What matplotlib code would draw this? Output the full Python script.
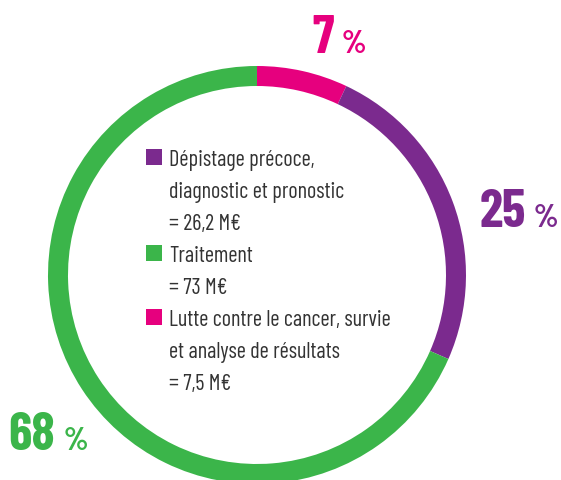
import matplotlib
matplotlib.use("Agg")
import matplotlib.pyplot as plt
from matplotlib.patches import Rectangle

# Budget breakdown (M€), drawn clockwise from 12 o'clock
labels = ["Lutte contre le cancer, survie\net analyse de résultats",
          "Dépistage précoce,\ndiagnostic et pronostic",
          "Traitement"]
values = [7.5, 26.2, 73]
amount_texts = ["= 7,5 M€", "= 26,2 M€", "= 73 M€"]
pct_labels = ["7", "25", "68"]
colors = ["#E6007E", "#7B2A8E", "#3BB54A"]

# legend order as in the picture
legend_order = [1, 2, 0]

W, H = 561, 481
FONT = ["Barlow Condensed", "DejaVu Sans"]
TEXT_COLOR = "#333333"


def py(y):
    # pixel row (from top) -> data y
    return H - y


def main():
    fig = plt.figure(figsize=(W / 100, H / 100), dpi=100)
    ax = fig.add_axes([0, 0, 1, 1])

    ax.pie(values, colors=colors, startangle=90, counterclock=False,
           center=(257, py(276)), radius=209,
           wedgeprops=dict(width=20, edgecolor="none"))
    ax.set_xlim(0, W)
    ax.set_ylim(0, H)
    ax.set_aspect("equal")
    ax.axis("off")

    # percentage labels: (x of number, baseline, x of %)
    pct_pos = [(312, 53, 342), (480, 227, 534), (8, 450, 64)]
    for (xn, yb, xp), txt, col in zip(pct_pos, pct_labels, colors):
        ax.text(xn, py(yb), txt, color=col, fontsize=38, fontweight="bold",
                family=FONT, ha="left", va="baseline")
        ax.text(xp, py(yb), "%", color=col, fontsize=23, fontweight="bold",
                family=FONT, ha="left", va="baseline")

    # legend in the middle of the ring
    y = 166
    step = 32
    for i in legend_order:
        ax.add_patch(Rectangle((146, py(y)), 16, 16,
                               facecolor=colors[i], edgecolor="none"))
        lines = labels[i].split("\n") + [amount_texts[i]]
        for line in lines:
            ax.text(169, py(y), line, color=TEXT_COLOR, fontsize=16,
                    family=FONT, fontweight="normal", ha="left",
                    va="baseline")
            y += step

    fig.savefig("out.png", dpi=100)


if __name__ == '__main__':
    main()
